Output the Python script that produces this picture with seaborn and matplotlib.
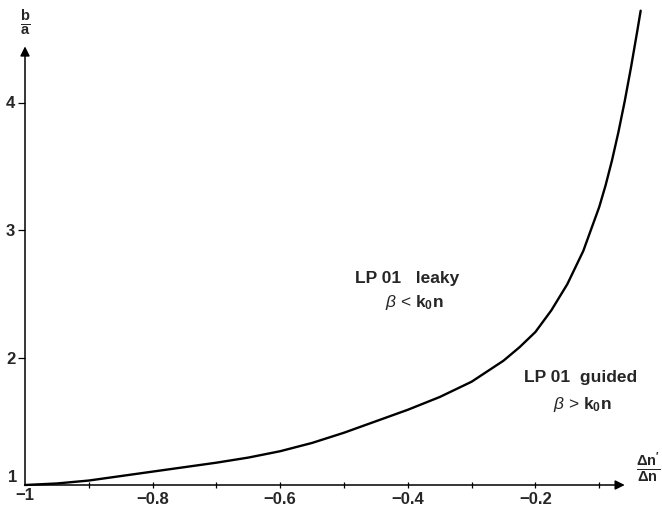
import matplotlib
matplotlib.use("Agg")
import matplotlib.pyplot as plt
import seaborn as sns
import pandas as pd

# data
dn_ratio = [-1.0, -0.95, -0.9, -0.85, -0.8, -0.75, -0.7, -0.65, -0.6, -0.55,
            -0.5, -0.45, -0.4, -0.35, -0.3, -0.25, -0.225, -0.2, -0.175,
            -0.15, -0.125, -0.1, -0.09, -0.08, -0.07, -0.06, -0.05, -0.04,
            -0.035]
b_over_a = [1.0, 1.012, 1.035, 1.07, 1.105, 1.14, 1.175, 1.215, 1.265, 1.33,
            1.41, 1.50, 1.59, 1.69, 1.81, 1.975, 2.08, 2.2, 2.37,
            2.575, 2.835, 3.18, 3.35, 3.545, 3.765, 4.01, 4.28, 4.57,
            4.72]
xtick_major = [-1.0, -0.8, -0.6, -0.4, -0.2]
xtick_major_labels = ["\u22121", "\u22120.8", "\u22120.6", "\u22120.4", "\u22120.2"]
xtick_minor = [-0.9, -0.7, -0.5, -0.3, -0.1]
ytick_major = [2, 3, 4]
ytick_labels = ["2", "3", "4"]

sns.set_theme(style="white")
plt.rcParams["font.family"] = ["Liberation Sans", "DejaVu Sans"]
plt.rcParams["mathtext.fontset"] = "custom"
plt.rcParams["mathtext.rm"] = "Liberation Sans"
plt.rcParams["mathtext.bf"] = "Liberation Sans:bold"
plt.rcParams["mathtext.it"] = "Liberation Sans:italic"

fig = plt.figure(figsize=(6.62, 5.13), dpi=100)
ax = fig.add_axes([25 / 662, 28 / 513, 0.98 * 638 / 662, 484.5 / 513])

df = pd.DataFrame({"x": dn_ratio, "y": b_over_a})
sns.lineplot(data=df, x="x", y="y", ax=ax, color="black", linewidth=1.7,
             clip_on=False)

ax.set_xlim(-1.0, -0.02)
ax.set_ylim(1.0, 4.8)
for s in ax.spines.values():
    s.set_visible(False)
ax.set_xlabel("")
ax.set_ylabel("")

# axis arrows
ax.annotate("", xy=(-0.06, 1.0), xytext=(-1.0, 1.0),
            arrowprops=dict(arrowstyle="-|>", color="black", lw=1.1,
                            mutation_scale=14, shrinkA=0, shrinkB=0),
            annotation_clip=False)
ax.annotate("", xy=(-1.0, 4.44), xytext=(-1.0, 1.0),
            arrowprops=dict(arrowstyle="-|>", color="black", lw=1.1,
                            mutation_scale=14, shrinkA=0, shrinkB=0),
            annotation_clip=False)

# ticks
ax.set_xticks(xtick_major[1:])
ax.set_xticklabels(xtick_major_labels[1:], fontweight="bold", fontsize=12)
ax.set_xticks(xtick_minor, minor=True)
ax.tick_params(axis="x", which="both", direction="inout", length=4, width=0.9,
               color="black", pad=3, bottom=True)
ax.set_yticks(ytick_major)
ax.set_yticklabels(ytick_labels, fontweight="bold", fontsize=12)
ax.tick_params(axis="y", which="major", direction="out", length=5, width=0.9,
               color="black", pad=2, left=True)

# origin labels
ax.text(-1.0, 0.975, "\u22121", ha="center", va="top", fontsize=12,
        fontweight="bold", clip_on=False)
ax.text(-1.012, 1.0, "1", ha="right", va="bottom", fontsize=12,
        fontweight="bold", clip_on=False)

# axis titles
ax.text(-1.0, 4.63, r"$\frac{\mathbf{b}}{\mathbf{a}}$", ha="center",
        va="center", fontsize=15, clip_on=False)
ax.text(-0.0235, 1.14, r"$\frac{\mathbf{\Delta n'}}{\mathbf{\Delta n}}$",
        ha="center", va="center", fontsize=15, clip_on=False)

# region annotations
ax.text(-0.401, 2.62, "LP 01   leaky", ha="center", va="center",
        fontsize=12.5, fontweight="bold")
ax.text(-0.389, 2.43, r"$\it{\beta}$ < $\mathbf{k_0 n}$", ha="center",
        va="center", fontsize=12.5)
ax.text(-0.129, 1.84, "LP 01  guided", ha="center", va="center",
        fontsize=12.5, fontweight="bold")
ax.text(-0.127, 1.635, r"$\it{\beta}$ > $\mathbf{k_0 n}$", ha="center",
        va="center", fontsize=12.5)

fig.savefig("out.png", dpi=100)
